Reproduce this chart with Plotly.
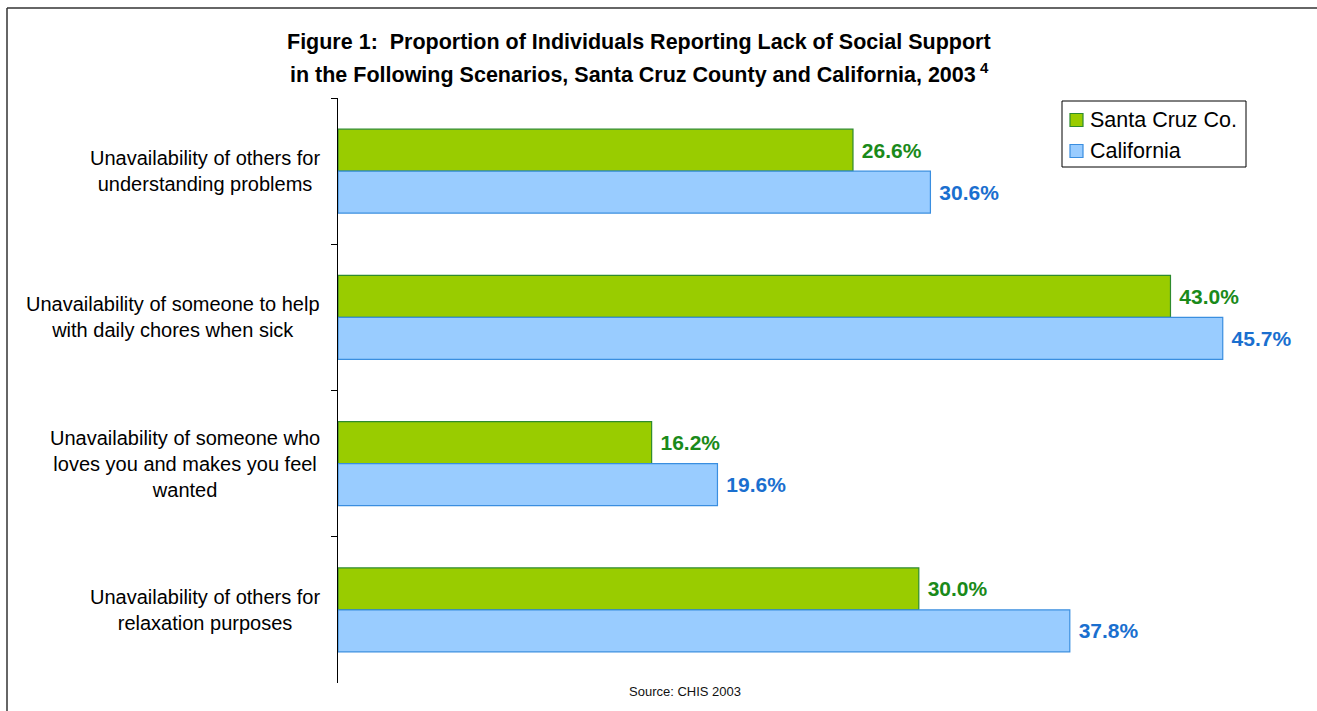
import plotly.graph_objects as go

# Scenario labels (line breaks as wrapped on the chart) and percentages
categories = [
    "Unavailability of others for<br>understanding problems",
    "Unavailability of someone to help<br>with daily chores when sick",
    "Unavailability of someone who<br>loves you and makes you feel<br>wanted",
    "Unavailability of others for<br>relaxation purposes",
]
santa_cruz = [26.6, 43.0, 16.2, 30.0]
california = [30.6, 45.7, 19.6, 37.8]
series_names = ["Santa Cruz Co.", "California"]

FONT = "Liberation Sans, Arial, sans-serif"
W, H = 1317, 711
L, R, T, B = 338, 11, 98, 28
PW, PH = W - L - R, H - T - B


def px_x(p):
    """Pixel column -> paper x."""
    return (p - L) / PW


def px_y(p):
    """Pixel row -> paper y."""
    return 1 - (p - T) / PH


fills = ["#99CC00", "#99CCFF"]
edges = ["#2E8B2E", "#3A8EE0"]
label_colors = ["#1A8A1A", "#1A6FCF"]

fig = go.Figure()
for name, vals, fc, ec, lc in zip(series_names, [santa_cruz, california],
                                  fills, edges, label_colors):
    fig.add_trace(go.Bar(
        y=categories, x=vals, orientation="h", name=name,
        marker=dict(color=fc, line=dict(color=ec, width=1.2)),
        texttemplate="\u00a0<b>%{x:.1f}%</b>", textposition="outside",
        outsidetextfont=dict(family=FONT, size=21, color=lc),
        cliponaxis=False, showlegend=False,
    ))

# Category labels as centered text blocks to the left of the axis
annotations = []
for c in categories:
    annotations.append(dict(
        x=0, xref="x", y=c, yref="y", text=c, showarrow=False,
        xanchor="right", yanchor="middle", align="center", xshift=-16,
        font=dict(family=FONT, size=20, color="#000000"),
    ))

# Two-line title
title_lines = [
    "<b>Figure 1:  Proportion of Individuals Reporting Lack of Social Support</b>",
    "<b>in the Following Scenarios, Santa Cruz County and California, 2003</b>"
    "<sup><b> 4</b></sup>",
]
for i, t in enumerate(title_lines):
    annotations.append(dict(
        x=px_x(639), xref="paper", y=px_y(42 + 31 * i), yref="paper",
        text=t, showarrow=False, xanchor="center", yanchor="middle",
        font=dict(family=FONT, size=21.5, color="#000000"),
    ))

# Source note
annotations.append(dict(
    x=px_x(685), xref="paper", y=px_y(691), yref="paper",
    text="Source: CHIS 2003", showarrow=False,
    xanchor="center", yanchor="middle",
    font=dict(family=FONT, size=13, color="#111111"),
))

# Outer frame: top and left edges only (the rest runs off the page)
frame = dict(color="#333333", width=1.5)
shapes = [
    dict(type="line", xref="paper", yref="paper",
         x0=px_x(7), x1=px_x(W), y0=px_y(8), y1=px_y(8), line=frame),
    dict(type="line", xref="paper", yref="paper",
         x0=px_x(7), x1=px_x(7), y0=px_y(8), y1=px_y(H), line=frame),
]

# Legend box with swatches
shapes.append(dict(
    type="rect", xref="paper", yref="paper",
    x0=px_x(1062), x1=px_x(1246), y0=px_y(167), y1=px_y(101),
    line=dict(color="#000000", width=1), fillcolor="white",
))
for i, (name, fc, ec) in enumerate(zip(series_names, fills, edges)):
    cy = 120 + 31 * i
    shapes.append(dict(
        type="rect", xref="paper", yref="paper",
        x0=px_x(1070), x1=px_x(1083), y0=px_y(cy + 6.5), y1=px_y(cy - 6.5),
        line=dict(color=ec, width=1.2), fillcolor=fc,
    ))
    annotations.append(dict(
        x=px_x(1088), xref="paper", y=px_y(cy), yref="paper",
        text=name, showarrow=False, xanchor="left", yanchor="middle",
        font=dict(family=FONT, size=21.5, color="#000000"),
    ))

fig.update_layout(
    width=W, height=H,
    margin=dict(l=L, r=R, t=T, b=B, pad=0),
    paper_bgcolor="white", plot_bgcolor="white",
    barmode="group", bargap=0.426, bargroupgap=0,
    font=dict(family=FONT, color="#000000"),
    showlegend=False,
    xaxis=dict(range=[0, 50], visible=False, fixedrange=True),
    yaxis=dict(
        autorange="reversed", showline=True, linecolor="#000000", linewidth=1,
        ticks="outside", tickson="boundaries", ticklen=6, tickcolor="#000000",
        showticklabels=False, showgrid=False, zeroline=False,
    ),
    annotations=annotations,
    shapes=shapes,
)

fig.write_html("out.html")
